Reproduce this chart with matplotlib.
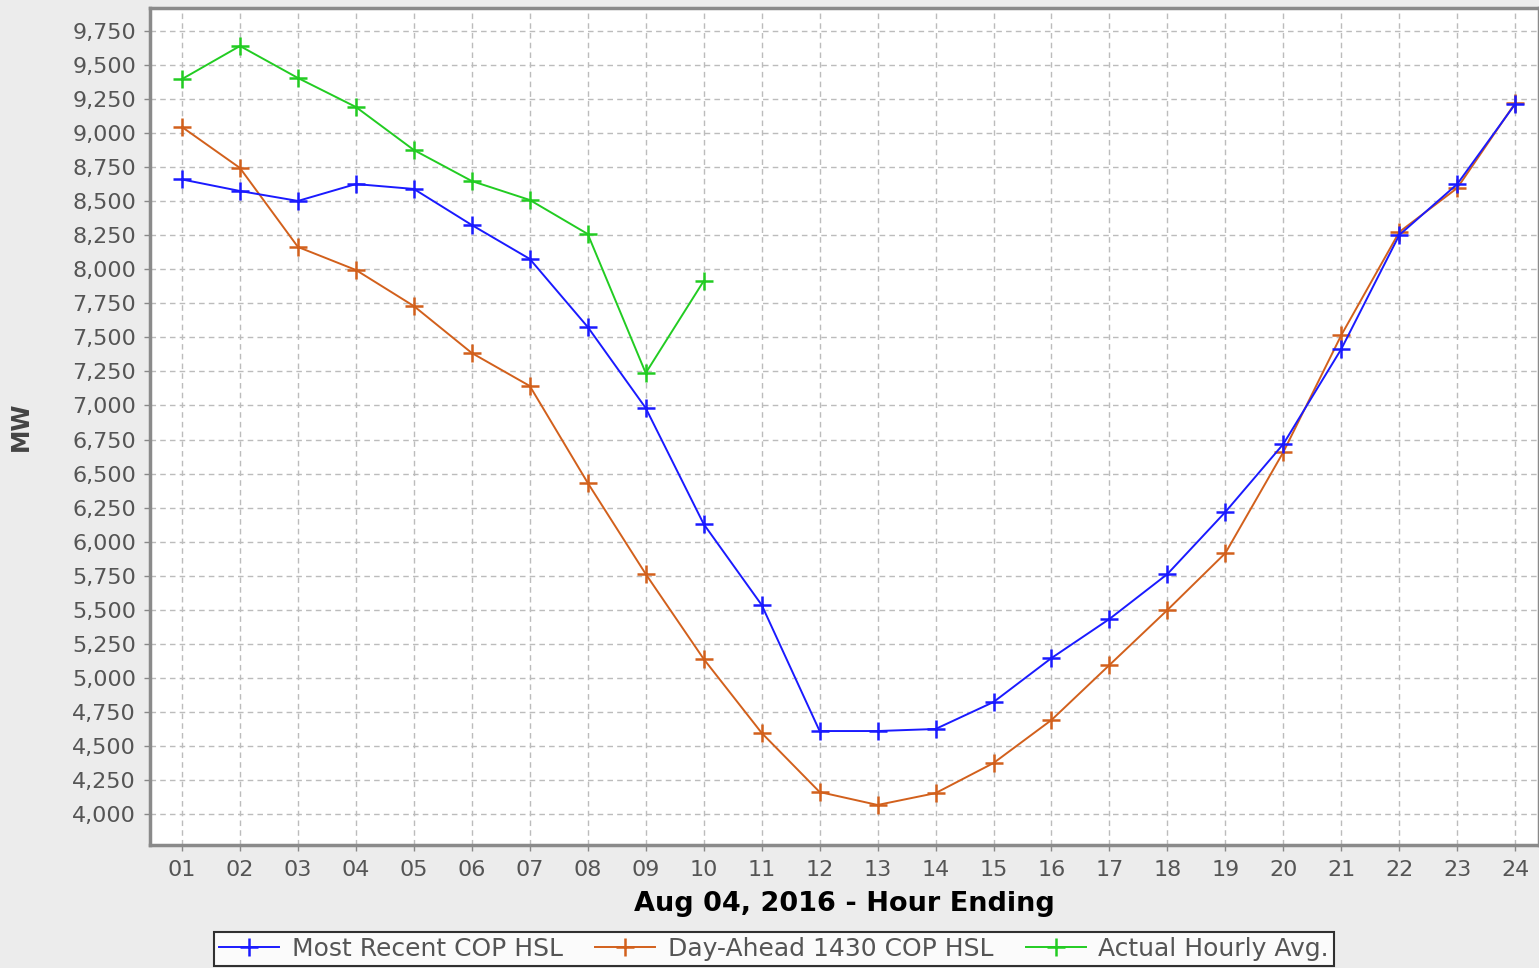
import matplotlib
matplotlib.use('Agg')  # noqa
import matplotlib.pyplot as plt
from matplotlib.ticker import FuncFormatter, MultipleLocator

hours = list(range(1, 25))
hour_labels = ['%02d' % h for h in hours]

most_recent = [8660, 8575, 8502, 8626, 8590, 8325, 8076, 7576, 6981, 6129,
               5535, 4609, 4609, 4624, 4822, 5145, 5432, 5762, 6218, 6717,
               7415, 8252, 8626, 9214]
day_ahead = [9045, 8744, 8164, 7995, 7730, 7385, 7143, 6431, 5762, 5138,
             4595, 4161, 4066, 4153, 4374, 4690, 5094, 5498, 5916, 6658,
             7517, 8274, 8597, 9221]
actual_hours = hours[:10]
actual = [9397, 9640, 9405, 9192, 8876, 8648, 8509, 8259, 7238, 7914]

fig = plt.figure(figsize=(15.39, 9.68), dpi=100, facecolor='#ececec')
ax = fig.add_axes([150 / 1539, 1 - 845 / 968, 1 - 150 / 1539, (845 - 8) / 968])
ax.set_facecolor('white')

line_kw = dict(marker='+', markersize=13, markeredgewidth=1.8, linewidth=1.4)
ax.plot(hours, most_recent, color='#1a1aff', label='Most Recent COP HSL', zorder=4, **line_kw)
ax.plot(hours, day_ahead, color='#d2601c', label='Day-Ahead 1430 COP HSL', zorder=3, **line_kw)
ax.plot(actual_hours, actual, color='#22cc22', label='Actual Hourly Avg.', zorder=5, **line_kw)

ax.set_xlim(0.448, 24.41)
ax.set_ylim(3772, 9919)
ax.set_xticks(hours)
ax.set_xticklabels(hour_labels)
ax.yaxis.set_major_locator(MultipleLocator(250))
ax.yaxis.set_major_formatter(FuncFormatter(lambda v, p: '{:,.0f}'.format(v) if 4000 <= v <= 9750 else ''))

ax.grid(True, color='#bcbcbc', linestyle=(0, (4, 3)), linewidth=1.0)
ax.set_axisbelow(True)
for s in ax.spines.values():
    s.set_color('#8a8a8a')
    s.set_linewidth(2.5)

ax.tick_params(axis='both', colors='#888888', labelcolor='#555555', length=4, width=1,
               labelsize=16)
ax.tick_params(axis='y', pad=6)
ax.tick_params(axis='x', pad=7)

ax.set_xlabel('Aug 04, 2016 - Hour Ending', fontsize=19.5, fontweight='bold', color='black', labelpad=8)
ax.set_ylabel('MW', fontsize=17, fontweight='bold', color='#444444', labelpad=28)

leg = fig.legend(loc='upper center', bbox_to_anchor=(0.503, 1 - 932 / 968), ncol=3, frameon=True,
                 fontsize=18, handlelength=2.4, handletextpad=0.5, columnspacing=1.3,
                 borderpad=0.2, borderaxespad=0, fancybox=False, edgecolor='black')
leg.get_frame().set_linewidth(1.5)
for t in leg.get_texts():
    t.set_color('#555555')

plt.savefig('out.png', dpi=100, facecolor=fig.get_facecolor())
